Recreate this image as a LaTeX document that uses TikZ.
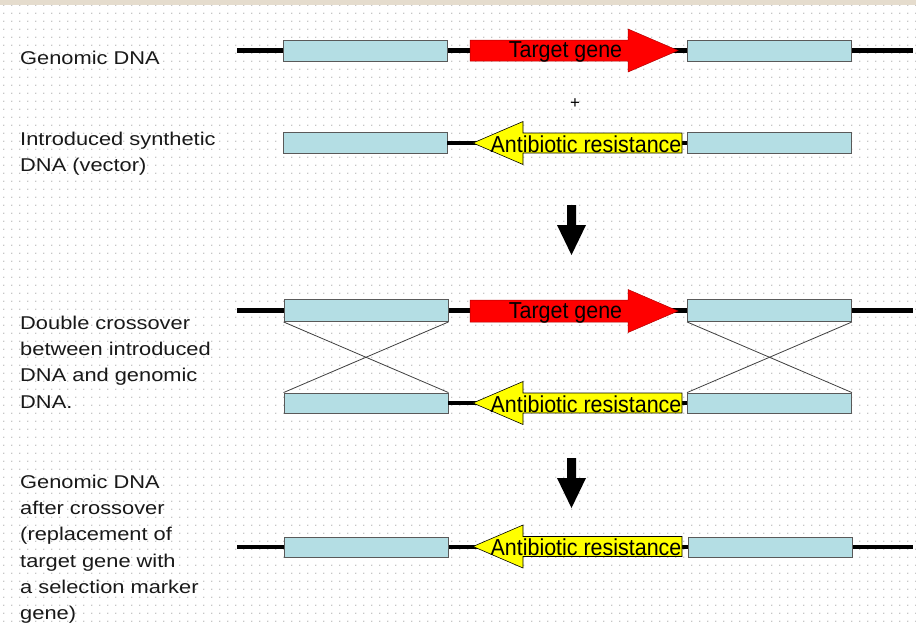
\documentclass[tikz,border=0pt]{standalone}
\usepackage{fontspec}
\setmainfont{Liberation Sans}
\usetikzlibrary{patterns}
\pgfdeclarepatternformonly{griddots}{\pgfpointorigin}{\pgfpoint{7.8pt}{7.8pt}}{\pgfpoint{7.8pt}{7.8pt}}{\pgfpathcircle{\pgfpoint{3.9pt}{3.9pt}}{0.75pt}\pgfusepath{fill}}
\definecolor{hom}{RGB}{180,222,228}
\definecolor{strip}{RGB}{229,220,205}
\definecolor{genered}{RGB}{255,0,0}
\definecolor{geneyel}{RGB}{255,255,0}
\tikzset{
  hbox/.style={draw=black!65, fill=hom, line width=0.9pt, inner sep=0pt, minimum width=164pt, minimum height=21pt},
  dna/.style={line width=4.5pt, black},
  redgene/.style={fill=genered, draw=red!70!black, line width=0.5pt},
  yelgene/.style={fill=geneyel, draw=black, line width=0.6pt},
  genelab/.style={font=\fontsize{22}{22}\selectfont, xscale=0.975, yscale=1.05, inner sep=0pt, anchor=base, text=black},
  sidelab/.style={font=\fontsize{18.5}{26.3}\selectfont, xscale=1.18, inner sep=0pt, anchor=north west, align=left, text=black!90},
  cross/.style={line width=0.8pt, black!75},
  downarrow/.style={fill=black}
}
\begin{document}
\begin{tikzpicture}[x=1pt,y=-1pt]
\useasboundingbox (0,0) rectangle (916,625);
\fill[white] (0,0) rectangle (916,625);
\fill[pattern=griddots, pattern color=black!30] (0,5) rectangle (916,625);
\fill[strip] (0,0) rectangle (916,5);

% side labels
\node[sidelab] (t1) at (20,50.5) {Genomic DNA};
\node[sidelab] (t2) at (20,131.5) {Introduced synthetic\\DNA (vector)};
\node[sidelab] (t3) at (20,315.5) {Double crossover\\between introduced\\DNA and genomic\\DNA.};
\node[sidelab] (t4) at (20,474.5) {Genomic DNA\\after crossover\\(replacement of\\target gene with\\a selection marker\\gene)};

% row 1: genomic DNA
\coordinate (a1) at (237,50.5);
\coordinate (b1) at (913,50.5);
\draw[dna] (a1) -- (b1);
\node[hbox] (L1) at (365,50.5) {};
\node[hbox] (R1) at (769.5,50.5) {};
\path[redgene] (470,40) -- (628,40) -- (628,29) -- (678,50.5) -- (628,72) -- (628,61) -- (470,61) -- cycle;
\node[genelab] (g1) at (565.5,57.5) {Target gene};

\node[font=\fontsize{17}{17}\selectfont, inner sep=0pt] (plus) at (575,103.5) {+};

% row 2: vector
\node[hbox] (L2) at (365,143) {};
\node[hbox] (R2) at (769.5,143) {};
\draw[dna] (L2.east) -- (R2.west);
\path[yelgene] (473,143) -- (523,121.5) -- (523,133) -- (682,133) -- (682,153) -- (523,153) -- (523,164.5) -- cycle;
\node[genelab] (g2) at (586,152.5) {Antibiotic resistance};

% down arrow 1
\path[downarrow] (567,205) -- (576,205) -- (576,225) -- (586,225) -- (571.5,255) -- (557,225) -- (567,225) -- cycle;

% row 3
\coordinate (a3) at (237,310.5);
\coordinate (b3) at (913,310.5);
\draw[dna] (a3) -- (b3);
\node[hbox, minimum height=22pt] (L3) at (366,310.5) {};
\node[hbox, minimum height=22pt] (R3) at (769.5,310.5) {};
\path[redgene] (470,300) -- (628,300) -- (628,289.5) -- (678,311) -- (628,332.5) -- (628,322) -- (470,322) -- cycle;
\node[genelab] (g3) at (565.5,318.5) {Target gene};

% row 4
\node[hbox, minimum height=20pt] (L4) at (366,403) {};
\node[hbox, minimum height=20pt] (R4) at (769.5,403) {};
\draw[dna] (L4.east) -- (R4.west);
\path[yelgene] (473,403) -- (523,381.5) -- (523,393) -- (682,393) -- (682,413) -- (523,413) -- (523,424.5) -- cycle;
\node[genelab] (g4) at (586,412.5) {Antibiotic resistance};

% crossover lines
\draw[cross] (L3.south west) -- (L4.north east);
\draw[cross] (L3.south east) -- (L4.north west);
\draw[cross] (R3.south west) -- (R4.north east);
\draw[cross] (R3.south east) -- (R4.north west);

% down arrow 2
\path[downarrow] (567,458) -- (576,458) -- (576,478) -- (586,478) -- (571.5,508) -- (557,478) -- (567,478) -- cycle;

% row 5
\coordinate (a5) at (237,547);
\coordinate (b5) at (913,547);
\draw[dna] (a5) -- (b5);
\node[hbox, minimum height=20pt] (L5) at (366,547) {};
\node[hbox, minimum height=20pt] (R5) at (770,547) {};
\path[yelgene] (473,546.5) -- (523,525) -- (523,536.5) -- (682,536.5) -- (682,556.5) -- (523,556.5) -- (523,568) -- cycle;
\node[genelab] (g5) at (586,555.5) {Antibiotic resistance};
\end{tikzpicture}
\end{document}
